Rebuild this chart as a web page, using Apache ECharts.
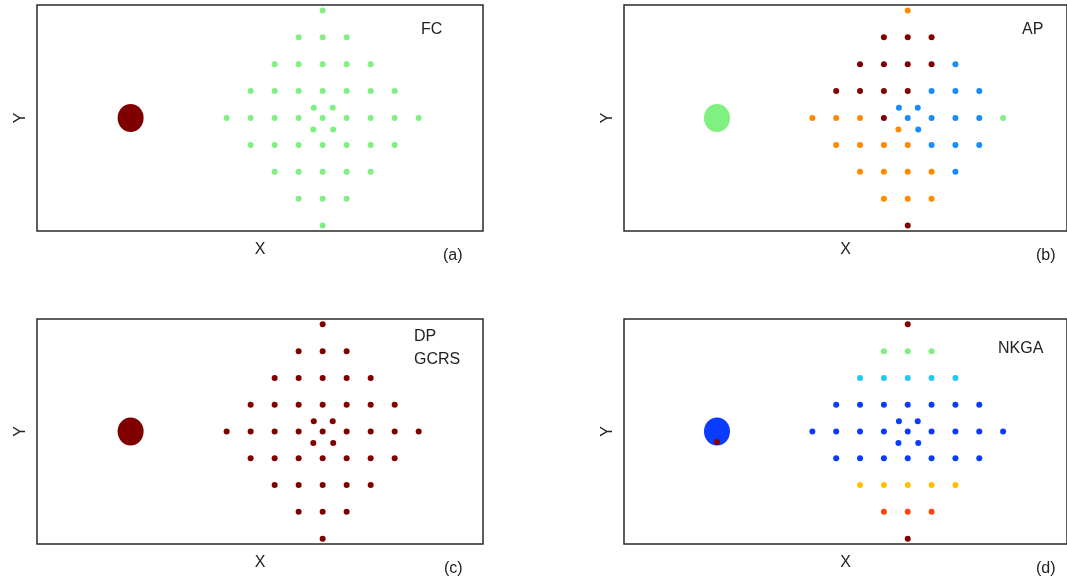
<!DOCTYPE html>
<html>
<head>
<meta charset="utf-8">
<script src="https://cdn.jsdelivr.net/npm/echarts@6/dist/echarts.min.js"></script>
<style>
html,body{margin:0;padding:0;background:#fff;}
#c{width:1067px;height:581px;}
</style>
</head>
<body>
<div id="c"></div>
<script>
// ---- data (grid units) ----
const ptX = [0,
  -1, 0, 1,
  -2, -1, 0, 1, 2,
  -3, -2, -1, 0, 1, 2, 3,
  -0.37, 0.42,
  -4, -3, -2, -1, 0, 1, 2, 3, 4,
  -0.39, 0.44,
  -3, -2, -1, 0, 1, 2, 3,
  -2, -1, 0, 1, 2,
  -1, 0, 1,
  0];
const ptY = [4,
  3, 3, 3,
  2, 2, 2, 2, 2,
  1, 1, 1, 1, 1, 1, 1,
  0.38, 0.38,
  0, 0, 0, 0, 0, 0, 0, 0, 0,
  -0.43, -0.43,
  -1, -1, -1, -1, -1, -1, -1,
  -2, -2, -2, -2, -2,
  -3, -3, -3,
  -4];

// cluster labels per point, one array per panel
const classA = ['G','G','G','G','G','G','G','G','G','G','G','G','G','G','G','G','G','G','G','G','G','G','G','G','G','G','G','G','G','G','G','G','G','G','G','G','G','G','G','G','G','G','G','G','G'];
const classB = ['O',
  'R','R','R',
  'R','R','R','R','B',
  'R','R','R','R','B','B','B',
  'B','B',
  'O','O','O','R','B','B','B','B','G',
  'O','B',
  'O','O','O','O','B','B','B',
  'O','O','O','O','B',
  'O','O','O',
  'R'];
const classC = ['R','R','R','R','R','R','R','R','R','R','R','R','R','R','R','R','R','R','R','R','R','R','R','R','R','R','R','R','R','R','R','R','R','R','R','R','R','R','R','R','R','R','R','R','R'];
const classD = ['R',
  'G','G','G',
  'C','C','C','C','C',
  'D','D','D','D','D','D','D',
  'D','D',
  'D','D','D','D','D','D','D','D','D',
  'D','D',
  'D','D','D','D','D','D','D',
  'Y','Y','Y','Y','Y',
  'Q','Q','Q',
  'R'];

// the large source blob in each panel
const blobX = [-8, -8, -8, -8];
const blobY = [0, 0, 0, 0];
const blobClass = ['R', 'G', 'R', 'D'];

// extra small point on the blob in panel (d)
const extraX = [-8];
const extraY = [-0.39];
const extraClass = ['R'];

const methodLabels = [['FC'], ['AP'], ['DP', 'GCRS'], ['NKGA']];
const panelTags = ['(a)', '(b)', '(c)', '(d)'];
const axisNameX = 'X';
const axisNameY = 'Y';

// ---- styles ----
const palette = {
  R: '#800000', O: '#ff8a00', B: '#1a8aff', G: '#80f080',
  C: '#20c8f8', D: '#0a3cff', Y: '#ffc000', Q: '#ff4410'
};
const FONT = '"Liberation Sans", Arial, Helvetica, sans-serif';
const TXT = '#222';
const panels = [
  {left: 37, top: 5, height: 226},
  {left: 624, top: 5, height: 226},
  {left: 37, top: 319, height: 225},
  {left: 624, top: 319, height: 225}
];
const classes = [classA, classB, classC, classD];
const labelPos = [[421, 31], [1022, 31], [414, 338], [998, 350]];
const tagPos = [[454, 257], [1047, 257], [455, 570], [1047, 570]];

const grid = [], xAxis = [], yAxis = [], series = [], graphic = [];
panels.forEach((p, i) => {
  grid.push({left: p.left, top: p.top, width: 446, height: p.height,
    show: true, borderColor: '#2a2a2a', borderWidth: 1.5, backgroundColor: 'transparent'});
  xAxis.push({gridIndex: i, type: 'value', min: -11.9, max: 6.68,
    axisLine: {show: false}, axisTick: {show: false}, axisLabel: {show: false}, splitLine: {show: false},
    name: axisNameX, nameLocation: 'middle', nameGap: 11,
    nameTextStyle: {fontFamily: FONT, fontSize: 16, color: TXT}});
  yAxis.push({gridIndex: i, type: 'value', min: -4.2, max: 4.2,
    axisLine: {show: false}, axisTick: {show: false}, axisLabel: {show: false}, splitLine: {show: false},
    name: axisNameY, nameLocation: 'middle', nameGap: 8, nameRotate: 90,
    nameTextStyle: {fontFamily: FONT, fontSize: 16, color: TXT}});
  series.push({type: 'scatter', xAxisIndex: i, yAxisIndex: i, symbol: 'circle', symbolSize: [26, 28],
    silent: true, z: 2,
    data: [{value: [blobX[i], blobY[i]], itemStyle: {color: palette[blobClass[i]], opacity: 1}}]});
  const cls = classes[i];
  series.push({type: 'scatter', xAxisIndex: i, yAxisIndex: i, symbol: 'circle', symbolSize: 6,
    silent: true, z: 3,
    data: ptX.map((x, k) => ({value: [x, ptY[k]], itemStyle: {color: palette[cls[k]], opacity: 1}}))});
  if (i === 3) {
    series.push({type: 'scatter', xAxisIndex: i, yAxisIndex: i, symbol: 'circle', symbolSize: 6,
      silent: true, z: 4,
      data: extraX.map((x, k) => ({value: [x, extraY[k]], itemStyle: {color: palette[extraClass[k]], opacity: 1}}))});
  }
  methodLabels[i].forEach((t, j) => {
    graphic.push({type: 'text', left: labelPos[i][0], top: labelPos[i][1] - 9 + j * 23,
      style: {text: t, fill: TXT, font: '16px ' + FONT}});
  });
  graphic.push({type: 'text', left: tagPos[i][0] - 11, top: tagPos[i][1] - 9,
    style: {text: panelTags[i], fill: TXT, font: '16px ' + FONT}});
});

const chart = echarts.init(document.getElementById('c'), null, {renderer: 'canvas'});
chart.setOption({
  animation: false,
  backgroundColor: '#fff',
  grid, xAxis, yAxis, series, graphic
});
</script>
</body>
</html>
